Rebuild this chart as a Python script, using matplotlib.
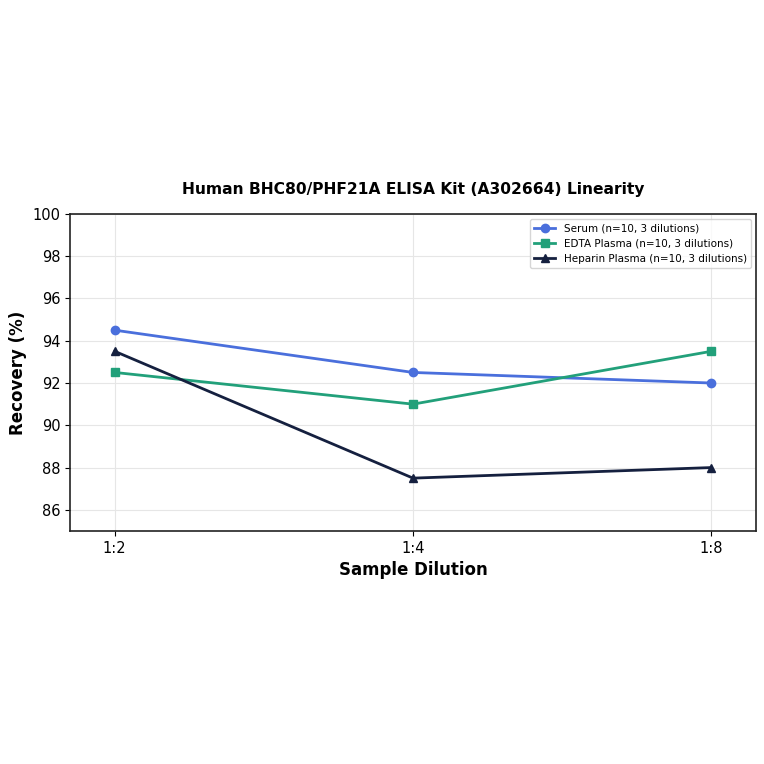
import matplotlib
matplotlib.use("Agg")
import matplotlib.pyplot as plt

dilutions = ['1:2', '1:4', '1:8']
serum = [94.5, 92.5, 92.0]
edta = [92.5, 91.0, 93.5]
heparin = [93.5, 87.5, 88.0]

fig = plt.figure(figsize=(7.64, 7.64), dpi=100)
ax = fig.add_axes([0.0916, 0.305, 0.898, 0.415])

x = range(len(dilutions))
ax.plot(x, serum, marker='o', color='#4a6fdc', linewidth=2, markersize=6,
        label='Serum (n=10, 3 dilutions)')
ax.plot(x, edta, marker='s', color='#22a07a', linewidth=2, markersize=6,
        label='EDTA Plasma (n=10, 3 dilutions)')
ax.plot(x, heparin, marker='^', color='#15203f', linewidth=2, markersize=6,
        label='Heparin Plasma (n=10, 3 dilutions)')

ax.set_xticks(list(x))
ax.set_xticklabels(dilutions)
ax.set_xlim(-0.15, 2.15)
ax.set_ylim(85, 100)
ax.set_yticks(range(86, 101, 2))
ax.tick_params(labelsize=10.5)
ax.grid(True, color='#e6e6e6', linewidth=0.8)
for s in ax.spines.values():
    s.set_linewidth(1.2)
    s.set_color('#222222')

ax.set_title('Human BHC80/PHF21A ELISA Kit (A302664) Linearity',
             fontsize=11.2, fontweight='bold', pad=14)
ax.set_xlabel('Sample Dilution', fontsize=12, fontweight='bold')
ax.set_ylabel('Recovery (%)', fontsize=12, fontweight='bold')
ax.legend(loc='upper right', fontsize=7.5)

fig.savefig('out.png', dpi=100)
